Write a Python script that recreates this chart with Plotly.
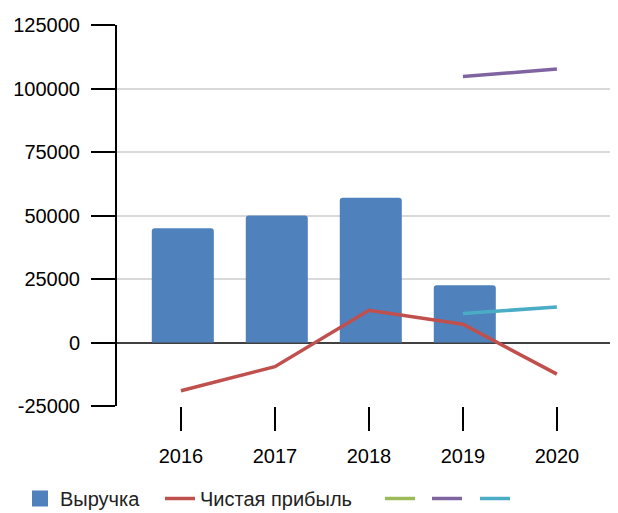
import plotly.graph_objects as go

years = ["2016", "2017", "2018", "2019", "2020"]
revenue = [45000, 50000, 57000, 22500, None]
net_profit = [-19000, -9500, 12700, 7200, -12450]
series_green = [None, None, None, None, None]
series_purple = [None, None, None, 104700, 107700]
series_teal = [None, None, None, 11400, 14000]
y_ticks = [-25000, 0, 25000, 50000, 75000, 100000, 125000]
y_ticktext = ["-25000", "0", "25000", "50000", "75000", "100000", "125000"]

xpos = list(range(len(years)))
OFF = 8  # page body margin
W, H = 618 - OFF, 513 - OFF

fig = go.Figure()
fig.add_trace(go.Bar(x=xpos, y=revenue, name="Выручка", width=0.66, offset=-0.31,
                     showlegend=False,
                     marker=dict(color="#4F81BD", cornerradius=3, line=dict(width=0))))
# legend proxy for the bar series
fig.add_trace(go.Scatter(x=[None], y=[None], name="Выручка", mode="markers",
                         marker=dict(color="#4F81BD", symbol="square", size=16),
                         legend="legend"))
fig.add_trace(go.Scatter(x=xpos, y=net_profit, name="Чистая прибыль", mode="lines",
                         line=dict(color="#C0504D", width=3.5), legend="legend2"))
fig.add_trace(go.Scatter(x=xpos, y=series_green, name=" ", mode="lines",
                         line=dict(color="#9BBB59", width=3.5), legend="legend3"))
fig.add_trace(go.Scatter(x=xpos, y=series_purple, name=" ", mode="lines",
                         line=dict(color="#8064A2", width=3.5), legend="legend4"))
fig.add_trace(go.Scatter(x=xpos, y=series_teal, name=" ", mode="lines",
                         line=dict(color="#4BACC6", width=3.5), legend="legend5"))

def leg(px_center):
    # px_center: desired symbol centre in page pixels
    return dict(xref="container", yref="container", x=(px_center - OFF - 20) / W,
                xanchor="left", y=1 - (479 - OFF) / H, yanchor="top",
                orientation="h", itemsizing="trace",
                font=dict(size=20, color="#222222"), bgcolor="rgba(0,0,0,0)")

fig.update_layout(
    width=W, height=H,
    margin=dict(l=117 - OFF, r=0, t=25 - OFF, b=H - (406 - OFF), autoexpand=False),
    paper_bgcolor="white", plot_bgcolor="white",
    font=dict(family="Liberation Sans, Arial, sans-serif", size=20, color="#000000"),
    showlegend=True,
    legend=leg(40), legend2=leg(180), legend3=leg(400), legend4=leg(447), legend5=leg(495),
    xaxis=dict(range=[-0.68, 4.65], tickvals=xpos, ticktext=years, automargin=False,
               showgrid=False, zeroline=False, showline=False,
               ticks="outside", ticklen=24, tickcolor="black", tickwidth=2,
               ticklabelstandoff=8, tickfont=dict(size=20)),
    yaxis=dict(range=[-25000, 125000], tickvals=y_ticks, ticktext=y_ticktext,
               automargin=False,
               showgrid=True, gridcolor="#D9D9D9", gridwidth=1.5,
               zeroline=True, zerolinecolor="#404040", zerolinewidth=1.5,
               showline=True, linecolor="black", linewidth=2,
               ticks="outside", ticklen=24, tickcolor="black", tickwidth=2,
               ticklabelstandoff=7, tickfont=dict(size=20)),
)

fig.write_html("out.html")
